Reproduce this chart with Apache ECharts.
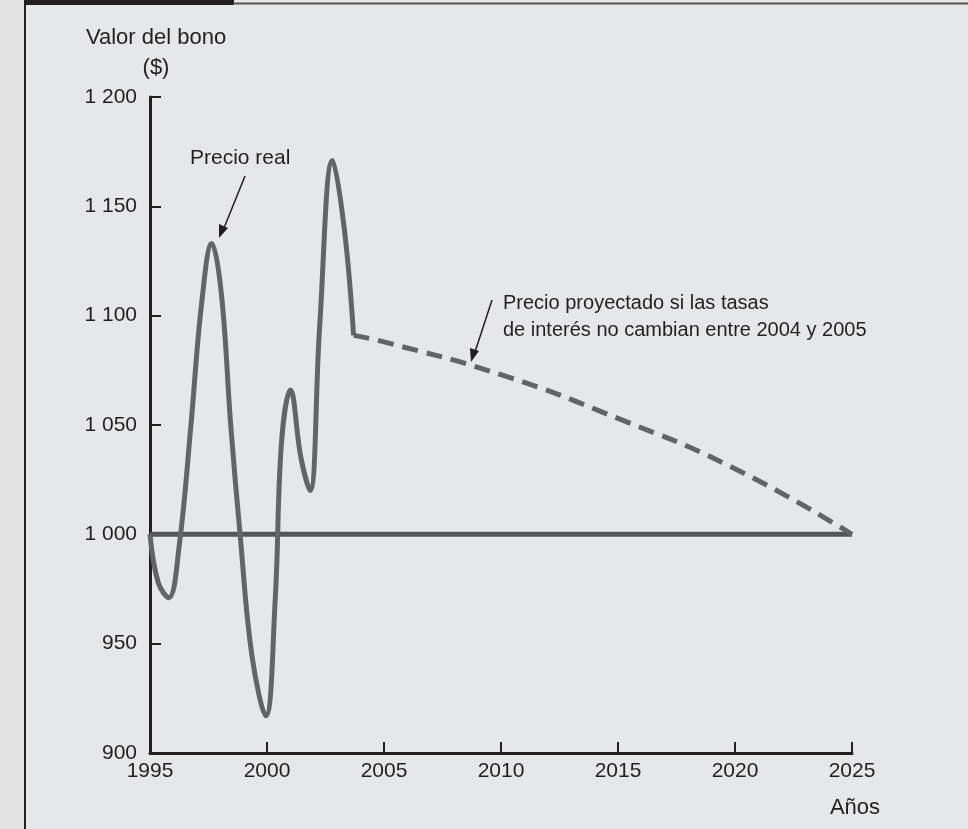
<!DOCTYPE html>
<html>
<head>
<meta charset="utf-8">
<script src="https://cdn.jsdelivr.net/npm/echarts@6/dist/echarts.min.js"></script>
<style>
  html, body { margin: 0; padding: 0; background: #e6e7e9; }
  #chart { width: 968px; height: 829px; }
</style>
</head>
<body>
<div id="chart"></div>
<script>
// precio real del bono (años, valor)
var realYears = [1995, 1995.35, 1995.8, 1996.25, 1996.75, 1997.2, 1997.64, 1998.05, 1998.45, 1998.85,
                 1999.35, 1999.95, 2000.35, 2000.62, 2001.0, 2001.45, 2001.84, 2002.25, 2002.8,
                 2003.3, 2003.7];
var realValues = [1000, 978, 971, 995, 1050, 1105, 1133, 1110, 1050, 1000,
                  945, 917, 970, 1042, 1066, 1035, 1020, 1095, 1171,
                  1140, 1091];
// precio proyectado
var projYears = [2003.7, 2005, 2010, 2015, 2020, 2025];
var projValues = [1091, 1088, 1073, 1053, 1030, 1000];
// valor nominal
var parYears = [1995, 2025];
var parValues = [1000, 1000];

var xTicks = [1995, 2000, 2005, 2010, 2015, 2020, 2025];
var yTicks = [900, 950, 1000, 1050, 1100, 1150, 1200];

function pairs(xs, ys) {
  return xs.map(function (x, i) { return [x, ys[i]]; });
}

var font = '"Liberation Sans", Arial, sans-serif';
var ink = '#231f20';

var chart = echarts.init(document.getElementById('chart'));
chart.setOption({
  backgroundColor: '#e6e7e9',
  animation: false,
  grid: { left: 150, right: 116, top: 97, bottom: 76, containLabel: false },
  xAxis: {
    type: 'value',
    min: xTicks[0], max: xTicks[xTicks.length - 1], interval: 5,
    axisLine: { lineStyle: { color: ink, width: 3 } },
    axisTick: { inside: true, length: 11, lineStyle: { color: ink, width: 2 } },
    axisLabel: { color: ink, fontSize: 21, fontFamily: font, margin: 8, formatter: function (v) { return String(v); } },
    splitLine: { show: false }
  },
  yAxis: {
    type: 'value',
    min: yTicks[0], max: yTicks[yTicks.length - 1], interval: 50,
    axisLine: { show: true, lineStyle: { color: ink, width: 3 } },
    axisTick: { show: true, inside: true, length: 11, lineStyle: { color: ink, width: 2 } },
    axisLabel: {
      color: ink, fontSize: 21, fontFamily: font, margin: 13,
      formatter: function (v) { return String(v).replace(/^(\d)(\d{3})$/, '$1 $2'); }
    },
    splitLine: { show: false }
  },
  series: [
    {
      type: 'line', name: 'par', data: pairs(parYears, parValues),
      symbol: 'none', lineStyle: { color: '#555658', width: 5 }, z: 2
    },
    {
      type: 'line', name: 'Precio real', data: pairs(realYears, realValues),
      symbol: 'none', smooth: 0.4,
      lineStyle: { color: '#636466', width: 5 }, z: 3
    },
    {
      type: 'line', name: 'Precio proyectado', data: pairs(projYears, projValues),
      symbol: 'none', smooth: true,
      lineStyle: { color: '#636466', width: 5, type: [16, 9] }, z: 3
    }
  ],
  graphic: [
    { type: 'rect', shape: { x: 0, y: 0, width: 24, height: 829 }, style: { fill: '#e3e3e3' } },
    { type: 'line', shape: { x1: 25, y1: 0, x2: 25, y2: 829 }, style: { stroke: ink, lineWidth: 2 } },
    { type: 'rect', shape: { x: 24, y: 0, width: 210, height: 5 }, style: { fill: ink } },
    { type: 'line', shape: { x1: 233, y1: 3.5, x2: 968, y2: 3.5 }, style: { stroke: '#555', lineWidth: 2 } },
    { type: 'text', x: 156, y: 38, style: { text: 'Valor del bono', font: '22px ' + font, fill: ink, textAlign: 'center', textVerticalAlign: 'middle' } },
    { type: 'text', x: 156, y: 68, style: { text: '($)', font: '22px ' + font, fill: ink, textAlign: 'center', textVerticalAlign: 'middle' } },
    { type: 'text', x: 855, y: 808, style: { text: 'Años', font: '22px ' + font, fill: ink, textAlign: 'center', textVerticalAlign: 'middle' } },
    // anotación precio real
    { type: 'text', x: 190, y: 158, style: { text: 'Precio real', font: '21px ' + font, fill: ink, textVerticalAlign: 'middle' } },
    { type: 'line', shape: { x1: 245, y1: 176, x2: 224, y2: 228 }, style: { stroke: ink, lineWidth: 1.5 } },
    { type: 'polygon', shape: { points: [[219, 238], [219, 224], [228, 228]] }, style: { fill: ink } },
    // anotación precio proyectado
    { type: 'text', x: 503, y: 303, style: { text: 'Precio proyectado si las tasas', font: '20px ' + font, fill: ink, textVerticalAlign: 'middle' } },
    { type: 'text', x: 503, y: 330, style: { text: 'de interés no cambian entre 2004 y 2005', font: '20px ' + font, fill: ink, textVerticalAlign: 'middle' } },
    { type: 'line', shape: { x1: 492, y1: 300, x2: 475, y2: 352 }, style: { stroke: ink, lineWidth: 1.5 } },
    { type: 'polygon', shape: { points: [[471, 362], [470, 348], [479, 351]] }, style: { fill: ink } }
  ]
});
</script>
</body>
</html>
